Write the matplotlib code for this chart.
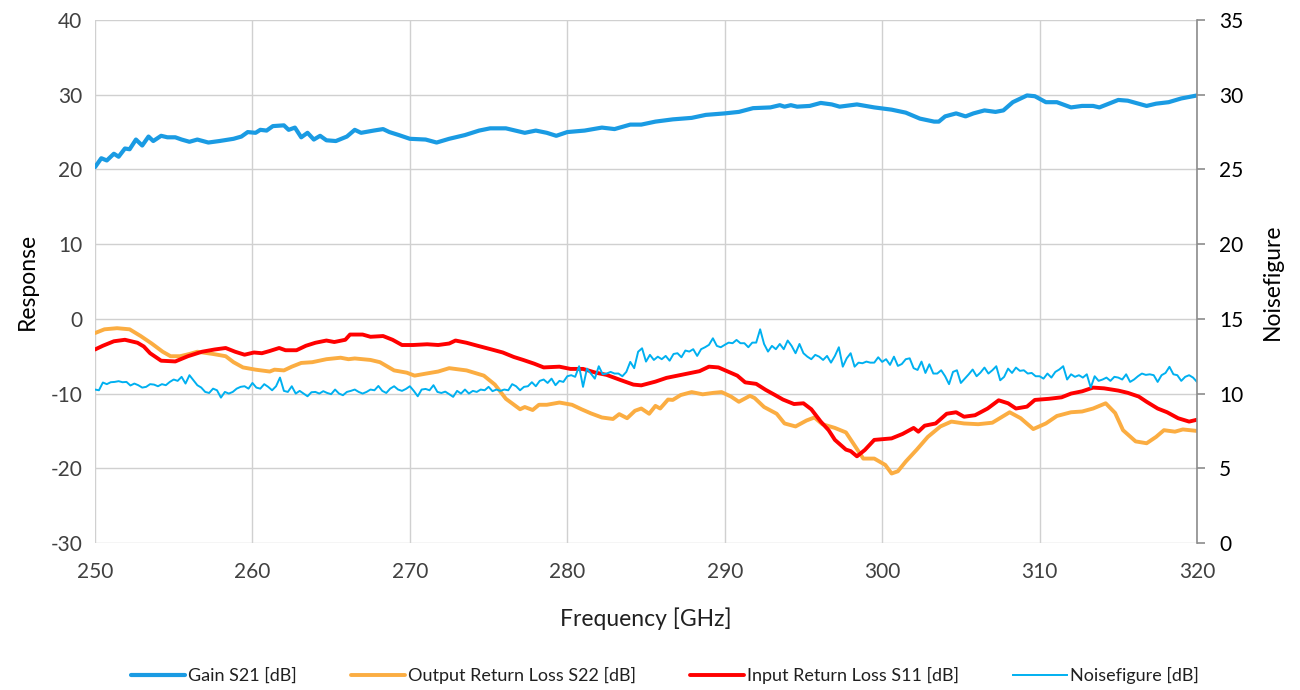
import numpy as np
import matplotlib
matplotlib.use("Agg")
import matplotlib.pyplot as plt

# ---------------- data ----------------
gain_f = [250.0, 250.4, 250.75, 251.2, 251.5, 251.9, 252.2, 252.6, 253.0, 253.4, 253.7, 254.2, 254.6,
          255.1, 255.5, 256.0, 256.5, 257.2, 257.9, 258.8, 259.3, 259.7, 260.2, 260.5, 260.9, 261.3,
          262.0, 262.3, 262.7, 263.1, 263.5, 263.9, 264.3, 264.7, 265.3, 266.0, 266.5, 266.9, 267.7,
          268.3, 268.7, 269.3, 270.0, 271.0, 271.7, 272.5, 273.5, 274.4, 275.1, 276.1, 277.3, 278.0,
          278.7, 279.3, 280.0, 281.1, 282.2, 283.0, 284.0, 284.7, 285.6, 286.7, 287.9, 288.8, 290.0,
          290.9, 291.8, 292.9, 293.5, 293.8, 294.2, 294.6, 295.4, 296.1, 296.8, 297.3, 298.4, 299.5,
          300.6, 301.5, 302.4, 303.3, 303.6, 304.0, 304.7, 305.3, 305.8, 306.5, 307.2, 307.7, 308.3,
          309.2, 309.7, 310.4, 311.1, 312.0, 312.7, 313.4, 313.8, 315.0, 315.6, 316.8, 317.4, 318.2,
          319.0, 320.0]
gain_db = [20.3, 21.5, 21.2, 22.1, 21.7, 22.8, 22.7, 24.0, 23.2, 24.4, 23.8, 24.5, 24.3,
           24.3, 24.0, 23.7, 24.0, 23.6, 23.8, 24.1, 24.4, 25.0, 24.9, 25.3, 25.2, 25.8,
           25.9, 25.3, 25.6, 24.3, 24.9, 24.0, 24.5, 23.9, 23.8, 24.4, 25.3, 24.9, 25.2,
           25.4, 25.0, 24.6, 24.1, 24.0, 23.6, 24.1, 24.6, 25.2, 25.5, 25.5, 24.9, 25.2,
           24.9, 24.5, 25.0, 25.2, 25.6, 25.4, 26.0, 26.0, 26.4, 26.7, 26.9, 27.3, 27.5,
           27.7, 28.2, 28.3, 28.6, 28.4, 28.6, 28.4, 28.5, 28.9, 28.7, 28.4, 28.7, 28.3,
           28.0, 27.6, 26.8, 26.4, 26.4, 27.1, 27.5, 27.1, 27.5, 27.9, 27.7, 27.9, 29.0,
           29.9, 29.8, 29.0, 29.0, 28.3, 28.5, 28.5, 28.3, 29.3, 29.2, 28.5, 28.8, 29.0,
           29.5, 29.9]

s22_f = [250.0, 250.6, 251.4, 252.2, 252.9, 253.6, 254.3, 254.8, 255.4, 256.0, 256.5, 257.5, 258.3,
         258.8, 259.4, 260.2, 261.1, 261.4, 262.0, 262.5, 263.1, 263.8, 264.7, 265.6, 266.1, 266.5,
         267.5, 268.1, 269.0, 269.8, 270.3, 271.1, 271.8, 272.5, 273.6, 274.7, 275.4, 276.1, 277.0,
         277.3, 277.8, 278.2, 278.7, 279.5, 280.3, 280.9, 281.5, 282.2, 282.9, 283.3, 283.8, 284.3,
         284.7, 285.2, 285.6, 285.9, 286.4, 286.7, 287.2, 287.9, 288.6, 289.3, 289.8, 290.4, 290.9,
         291.6, 291.9, 292.5, 293.3, 293.8, 294.5, 295.2, 295.7, 296.2, 297.0, 297.7, 298.3, 298.8,
         299.5, 300.2, 300.6, 301.0, 301.5, 302.2, 302.9, 303.7, 304.4, 305.2, 306.1, 307.0, 308.1,
         308.8, 309.6, 310.4, 311.1, 312.0, 312.7, 313.4, 314.2, 314.8, 315.3, 316.1, 316.8, 317.4,
         317.9, 318.6, 319.1, 320.0]
s22_db = [-1.9, -1.4, -1.25, -1.4, -2.3, -3.3, -4.4, -5.0, -5.0, -4.7, -4.4, -4.7, -5.0,
          -5.8, -6.5, -6.8, -7.05, -6.8, -6.9, -6.4, -5.9, -5.8, -5.4, -5.2, -5.4, -5.3,
          -5.5, -5.8, -6.9, -7.2, -7.6, -7.3, -7.05, -6.6, -6.9, -7.6, -8.8, -10.7, -12.1,
          -11.8, -12.2, -11.5, -11.5, -11.2, -11.5, -12.1, -12.65, -13.2, -13.4, -12.75, -13.3, -12.3,
          -12.0, -12.7, -11.65, -12.0, -10.8, -10.85, -10.2, -9.8, -10.1, -9.9, -9.8, -10.4, -11.1,
          -10.3, -10.6, -11.8, -12.7, -14.0, -14.4, -13.6, -13.2, -14.1, -14.6, -15.2, -17.1, -18.7,
          -18.7, -19.55, -20.7, -20.4, -19.1, -17.5, -15.8, -14.4, -13.75, -14.0, -14.1, -13.9, -12.5,
          -13.3, -14.75, -14.0, -13.0, -12.5, -12.4, -12.0, -11.3, -12.6, -14.9, -16.4, -16.65, -15.8,
          -14.9, -15.1, -14.8, -15.0]

s11_f = [250.0, 250.5, 251.2, 251.9, 252.7, 253.1, 253.5, 254.2, 255.1, 255.9, 256.8, 257.6, 258.3,
         258.9, 259.5, 260.1, 260.6, 261.1, 261.7, 262.1, 262.8, 263.4, 264.0, 264.7, 265.2, 265.9,
         266.2, 267.0, 267.5, 268.3, 268.9, 269.5, 270.2, 271.1, 271.8, 272.5, 272.9, 273.6, 274.3,
         275.2, 275.9, 276.6, 277.2, 277.9, 278.5, 279.5, 280.2, 281.0, 281.8, 282.5, 283.4, 284.2,
         284.7, 285.6, 286.3, 287.0, 287.7, 288.4, 289.0, 289.6, 290.2, 290.8, 291.3, 292.0, 292.6,
         293.2, 293.7, 294.4, 295.0, 295.5, 296.1, 296.6, 297.0, 297.7, 298.0, 298.4, 298.9, 299.5,
         300.6, 301.3, 302.0, 302.3, 302.7, 303.4, 304.1, 304.7, 305.2, 305.9, 306.7, 307.4, 308.0,
         308.5, 309.2, 309.7, 310.6, 311.4, 312.0, 312.7, 313.4, 314.1, 315.0, 315.6, 316.3, 316.8,
         317.5, 318.1, 318.8, 319.5, 320.0]
s11_db = [-4.1, -3.6, -3.0, -2.8, -3.2, -3.7, -4.6, -5.6, -5.7, -5.0, -4.4, -4.1, -3.9,
          -4.4, -4.8, -4.5, -4.6, -4.3, -3.9, -4.2, -4.2, -3.6, -3.2, -2.9, -3.1, -2.8,
          -2.1, -2.1, -2.4, -2.3, -2.8, -3.5, -3.5, -3.4, -3.5, -3.3, -2.9, -3.2, -3.6,
          -4.1, -4.5, -5.1, -5.5, -6.0, -6.5, -6.4, -6.7, -6.7, -7.2, -7.5, -8.2, -8.8,
          -8.9, -8.4, -7.9, -7.6, -7.3, -7.0, -6.4, -6.5, -7.05, -7.6, -8.5, -8.7, -9.5,
          -10.2, -10.8, -11.4, -11.3, -12.1, -13.75, -14.9, -16.2, -17.5, -17.7, -18.4, -17.55, -16.2,
          -16.0, -15.4, -14.6, -15.1, -14.3, -14.0, -12.7, -12.5, -13.1, -12.9, -12.0, -10.9, -11.3,
          -12.0, -11.75, -10.85, -10.7, -10.5, -10.0, -9.7, -9.2, -9.3, -9.6, -9.9, -10.4, -11.1,
          -12.0, -12.5, -13.3, -13.75, -13.5]

# noise figure, sampled every 0.25 GHz from 250 to 320 GHz
nf_db = [10.27, 10.22, 10.74, 10.63, 10.76, 10.78, 10.83, 10.76, 10.78,
         10.54, 10.67, 10.56, 10.40, 10.45, 10.63, 10.60, 10.49,
         10.63, 10.56, 10.78, 10.94, 10.85, 11.12, 10.67, 11.23,
         10.89, 10.56, 10.40, 10.11, 10.04, 10.33, 10.22, 9.73,
         10.11, 10.00, 10.11, 10.33, 10.45, 10.49, 10.33, 10.71,
         10.40, 10.33, 10.63, 10.45, 10.22, 10.49, 11.07, 10.18,
         10.11, 10.49, 10.00, 10.18, 10.00, 9.82, 10.09, 10.11,
         10.00, 10.16, 10.04, 9.96, 10.27, 10.00, 9.89, 10.11,
         10.18, 10.27, 10.11, 10.00, 10.11, 10.27,
         10.22, 10.51,
         10.18, 10.04, 10.33, 10.49, 10.27, 10.18, 10.31, 10.49,
         10.18, 9.82, 10.27, 10.31, 10.22, 10.56, 10.11, 10.04,
         10.13, 9.96, 9.78, 10.18, 10.00, 10.27, 10.00, 10.18,
         10.11, 10.27, 10.22, 10.45, 10.16, 10.27, 10.18, 10.27,
         10.22, 10.63, 10.49, 10.22, 10.45, 10.49, 10.76, 10.49,
         10.85, 10.94, 10.71, 11.00, 10.56, 10.85, 10.78, 11.16,
         11.23, 11.12, 11.83, 10.45, 11.67, 11.34, 11.00, 11.83,
         11.29, 11.34, 11.45, 11.34, 11.34, 11.16, 11.45, 12.12,
         11.70, 12.80, 13.03, 12.14,
         12.59, 12.25, 12.47, 12.30, 12.52, 12.20, 12.65, 12.70,
         12.43, 12.88, 12.81, 12.97, 12.52, 12.97, 13.10, 13.26,
         13.70, 13.19, 13.10, 13.26, 13.41, 13.37, 13.59, 13.37,
         13.37, 13.10, 13.41, 13.41, 14.30, 13.32, 12.81, 13.19,
         12.97, 13.32, 12.97, 13.55, 13.19, 12.70, 13.32, 12.70,
         12.47, 12.30, 12.59, 12.47, 12.25, 12.52, 12.07, 12.52,
         13.10, 11.80, 12.36, 12.70, 11.80, 12.07, 12.03, 12.14,
         12.07, 12.07, 12.43, 12.12, 12.30, 11.92, 12.47, 11.85,
         11.98, 12.30, 12.36, 11.70, 11.58, 12.14,
         11.38, 11.96, 11.34, 11.34, 11.56, 11.16,
         10.63, 11.45, 11.56, 10.71, 11.00, 11.29, 11.61, 11.16,
         11.41, 11.74, 11.34, 11.56, 11.83, 10.89, 11.12, 11.67,
         11.38, 11.74, 11.52, 11.56, 11.34, 11.38, 11.16, 11.16,
         11.00, 11.34, 11.07, 11.45, 11.61, 11.83, 10.94, 11.29,
         11.12, 11.23, 11.07, 11.29, 10.40, 11.16, 10.85, 10.94,
         11.07, 10.85, 11.12, 11.07, 10.94, 11.29, 10.78, 10.94,
         11.16, 11.34, 11.25, 11.29, 11.23, 10.78, 11.23, 11.38,
         11.79, 11.29, 11.23, 10.85, 11.12, 11.23, 11.07, 10.78]
nf_f = np.linspace(250, 320, len(nf_db))

x_ticks = [250, 260, 270, 280, 290, 300, 310, 320]
left_ticks = [-30, -20, -10, 0, 10, 20, 30, 40]
right_ticks = [0, 5, 10, 15, 20, 25, 30, 35]

labels = ["Gain S21 [dB]", "Output Return Loss S22 [dB]", "Input Return Loss S11 [dB]", "Noisefigure [dB]"]

# ---------------- plot ----------------
plt.rcParams['font.family'] = ['Lato', 'DejaVu Sans']
plt.rcParams['axes.unicode_minus'] = False
fig = plt.figure(figsize=(13, 6.9), dpi=100)
ax = fig.add_axes([95/1300, 1-543/690, (1197-95)/1300, (543-20)/690])
ax2 = ax.twinx()

c_gain = '#1A9BE3'
c_s22 = '#FBAD42'
c_s11 = '#FF0000'
c_nf = '#00B0F0'

l1, = ax.plot(gain_f, gain_db, color=c_gain, lw=3.0, solid_capstyle='round', solid_joinstyle='round', zorder=3)
l2, = ax.plot(s22_f, s22_db, color=c_s22, lw=2.8, solid_capstyle='round', solid_joinstyle='round', zorder=3)
l3, = ax.plot(s11_f, s11_db, color=c_s11, lw=2.8, solid_capstyle='round', solid_joinstyle='round', zorder=4)
l4, = ax2.plot(nf_f, nf_db, color=c_nf, lw=1.4, solid_joinstyle='round')

ax.set_xlim(250, 320)
ax.set_ylim(-30, 40)
ax2.set_ylim(0, 35)
ax.set_xticks(x_ticks)
ax.set_yticks(left_ticks)
ax2.set_yticks(right_ticks)

ax.grid(True, color='#D0D0D0', lw=1.0)
ax.set_axisbelow(True)
for s in ['top', 'right', 'left', 'bottom']:
    ax.spines[s].set_visible(False)
for s in ['top', 'left', 'bottom']:
    ax2.spines[s].set_visible(False)
ax2.spines['right'].set_color('#8C8C8C')
ax2.spines['right'].set_linewidth(1.2)

ax.tick_params(axis='both', length=0, labelsize=15, labelcolor='#404040', pad=9)
ax.tick_params(axis='x', pad=14)
ax2.tick_params(axis='y', length=6, width=1.2, color='#8C8C8C', labelsize=15, labelcolor='black', pad=10)

ax.set_xlabel("Frequency [GHz]", fontsize=16.5, color='#202020', labelpad=18)
ax.set_ylabel("Response", fontsize=16.5, color='black', labelpad=9)
ax2.set_ylabel("Noisefigure", fontsize=16.5, color='black', labelpad=13)

fig.legend([l1, l2, l3, l4], labels, loc='center', bbox_to_anchor=(0.5115, 0.021), ncol=4,
           frameon=False, fontsize=13, handlelength=3.0, columnspacing=3.0, handletextpad=0.15,
           labelcolor='#202020')

fig.savefig("out.png", dpi=100)
